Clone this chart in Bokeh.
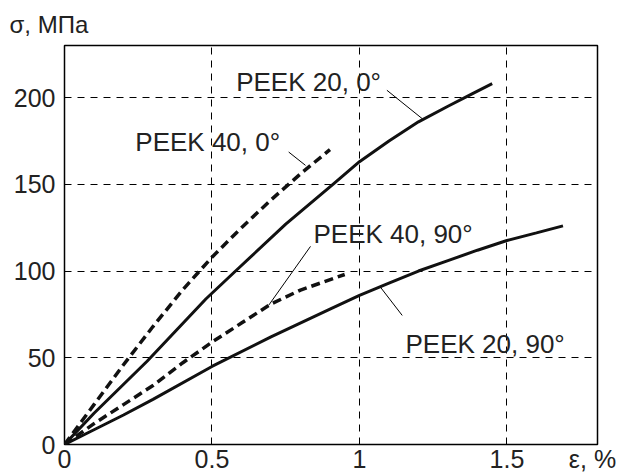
from bokeh.plotting import figure
from bokeh.models import Grid, FixedTicker, ColumnDataSource, Range1d
from bokeh.core.properties import value
from bokeh.embed import file_html
from bokeh.resources import INLINE

# ---- data ----
peek20_0_eps = [0, 0.1, 0.28, 0.48, 0.58, 0.75, 0.91, 1.0, 1.1, 1.2, 1.3, 1.38, 1.45]
peek20_0_sig = [0, 18, 48, 84, 100, 127, 150, 163, 175, 186, 195, 202, 208]

peek40_0_eps = [0, 0.1, 0.2, 0.3, 0.4, 0.5, 0.6, 0.7, 0.8, 0.9]
peek40_0_sig = [0, 23, 46, 68, 89, 108, 125, 141, 156, 170]

peek40_90_eps = [0, 0.1, 0.2, 0.3, 0.4, 0.5, 0.6, 0.7, 0.8, 0.95]
peek40_90_sig = [0, 12, 23, 34, 47, 59, 70, 81, 89, 98]

peek20_90_eps = [0, 0.1, 0.2, 0.3, 0.5, 0.7, 0.9, 1.0, 1.1, 1.2, 1.3, 1.4, 1.5, 1.6, 1.69]
peek20_90_sig = [0, 8.5, 17, 26, 45, 62, 78, 86, 93, 100, 106, 112, 117.6, 122, 126]

x_ticks = [0, 0.5, 1, 1.5]
x_unit_pos = 1.79
x_unit_label = "ε, %"
y_ticks = [0, 50, 100, 150, 200]
y_title = "σ, МПа"

curve_names = ["PEEK 20, 0°", "PEEK 40, 0°", "PEEK 40, 90°", "PEEK 20, 90°"]
# label anchor positions (data units) and leader lines
label_x = [0.582, 0.24, 0.844, 1.156]
label_y = [208.9, 174.4, 121.5, 58.1]
leader_x0 = [1.093, 0.760, 0.834, 1.071]
leader_y0 = [204.2, 168.6, 114.2, 90.7]
leader_x1 = [1.213, 0.817, 0.692, 1.145]
leader_y1 = [187.8, 160.9, 80.2, 74.4]

FONT = "Liberation Sans"
TXT = "#222222"

p = figure(width=619, height=475, x_range=Range1d(0, 1.807), y_range=Range1d(0, 230),
           output_backend="svg", toolbar_location=None, title=y_title,
           x_axis_location="below", y_axis_location="left",
           min_border_left=64, min_border_right=22, min_border_top=45, min_border_bottom=31,
           background_fill_color="white", border_fill_color="white")

p.outline_line_color = "black"
p.outline_line_width = 1.5
p.outline_line_alpha = 1.0

# title used as the y-unit label at top-left
p.title.align = "left"
p.title.offset = -55
p.title.text_font = FONT
p.title.text_font_size = "24px"
p.title.text_font_style = "normal"
p.title.text_color = TXT
p.title.standoff = 16

# axes
p.yaxis.ticker = FixedTicker(ticks=y_ticks)
p.xaxis.ticker = FixedTicker(ticks=x_ticks + [x_unit_pos])
p.xaxis.major_label_overrides = {x_unit_pos: x_unit_label}
for ax in (p.xaxis, p.yaxis):
    ax.axis_line_color = None
    ax.major_tick_line_color = None
    ax.minor_tick_line_color = None
    ax.major_tick_out = 0
    ax.major_tick_in = 0
    ax.major_label_text_font = FONT
    ax.major_label_text_font_size = "25px"
    ax.major_label_text_color = TXT
p.yaxis.major_label_standoff = 9
p.xaxis.major_label_standoff = 0

# grids
for g in list(p.grid):
    g.visible = False
p.add_layout(Grid(dimension=0, ticker=FixedTicker(ticks=x_ticks[1:]),
                  grid_line_color="black", grid_line_dash="7 6", grid_line_width=1))
p.add_layout(Grid(dimension=1, ticker=FixedTicker(ticks=y_ticks[1:]),
                  grid_line_color="black", grid_line_dash="7 6", grid_line_width=1))

# curves
p.line(peek20_0_eps, peek20_0_sig, line_color="#111111", line_width=3)
p.line(peek20_90_eps, peek20_90_sig, line_color="#111111", line_width=3)
p.line(peek40_0_eps, peek40_0_sig, line_color="#111111", line_width=3.5, line_dash="9 5")
p.line(peek40_90_eps, peek40_90_sig, line_color="#111111", line_width=3.5, line_dash="9 5")

# leaders
p.segment(x0=leader_x0, y0=leader_y0, x1=leader_x1, y1=leader_y1, line_color="black", line_width=1)

# curve labels
lab_src = ColumnDataSource(dict(x=label_x, y=label_y, t=curve_names))
p.text(x="x", y="y", text="t", source=lab_src, text_font=value(FONT), text_font_size="26px",
       text_color=TXT, text_align="left", text_baseline="alphabetic")

open("out.html", "w").write(file_html(p, INLINE))
